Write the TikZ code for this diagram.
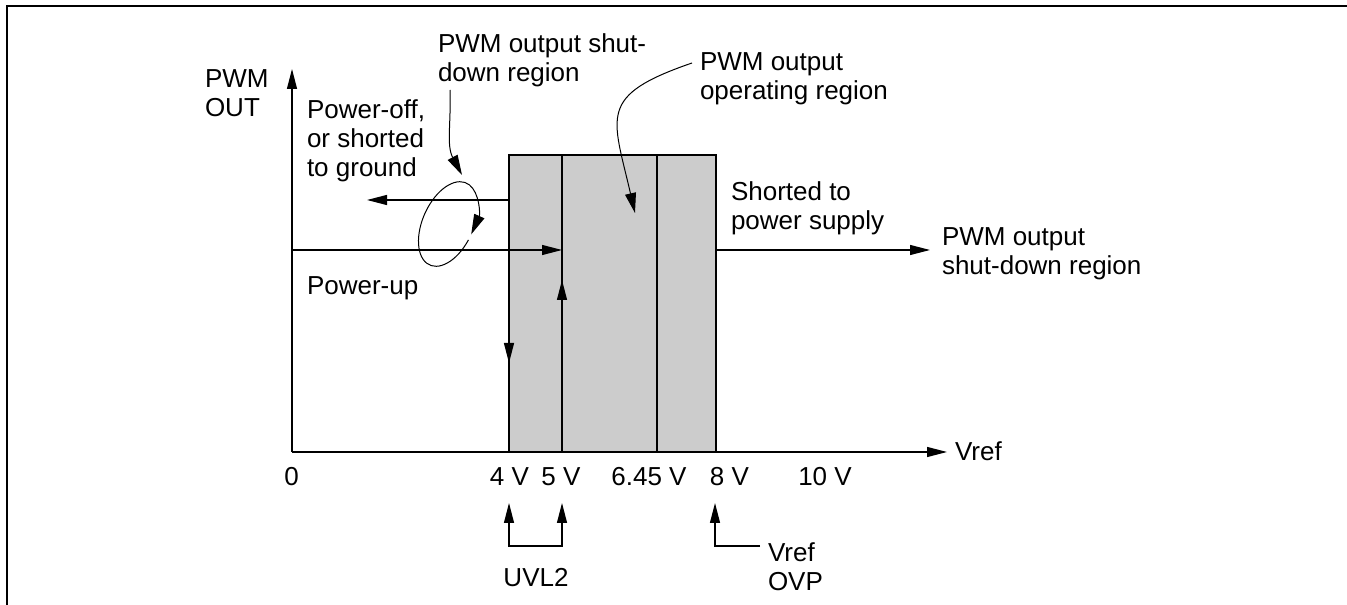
\documentclass[tikz,border=0pt]{standalone}
\usepackage{fontspec}
\setmainfont{Liberation Sans}
\usetikzlibrary{arrows.meta}
\definecolor{boxgray}{HTML}{CCCCCC}
\begin{document}
\begin{tikzpicture}[x=1pt,y=1pt,
  lbl/.style={font=\fontsize{26pt}{29pt}\selectfont, inner sep=0pt, outer sep=0pt, align=left},
  ln/.style={line width=1.2pt},
  thickln/.style={line width=1.8pt},
  arr/.style={-{Triangle[length=20pt,width=10pt]}},
  curvarr/.style={line width=1pt,-{Triangle[length=20pt,width=11pt]}}]
\useasboundingbox (0,0) rectangle (1347,605);
% frame
\draw[thickln] (7,0) -- (7,599) -- (1347,599);
% coordinates
\coordinate (O) at (292,153);
\coordinate (Ytop) at (292,536);
\coordinate (Xend) at (947,153);
\coordinate (b5t) at (562,450);
\coordinate (b5b) at (562,153);
\coordinate (b6t) at (657,450);
\coordinate (b6b) at (657,153);
% shaded region
\node[draw, fill=boxgray, thickln, anchor=south west, inner sep=0pt, outer sep=0pt,
      minimum width=207pt, minimum height=297pt] (box) at (509,153) {};
\draw[thickln] (b5b) -- (b5t);
\draw[thickln] (b6b) -- (b6t);
% axes
\draw[ln,arr] (O) -- (Ytop);
\draw[ln,arr] (O) -- (Xend);
% power-up / power-off / shorted paths
\coordinate (pu0) at (292,355);
\coordinate (pu1) at (562,355);
\draw[ln,arr] (pu0) -- (pu1);
\coordinate (po0) at (509,405);
\coordinate (po1) at (367,405);
\draw[ln,arr] (po0) -- (po1);
\coordinate (dn1) at (509,242);
\draw[ln,arr] (po0) -- (dn1);
\coordinate (up0) at (562,153);
\coordinate (up1) at (562,325);
\draw[ln,arr] (up0) -- (up1);
\coordinate (r0) at (716,355);
\coordinate (r1) at (930,355);
\draw[ln,arr] (r0) -- (r1);
% ellipse with arrow
\begin{scope}[shift={(448,381)}, rotate=66]
  \draw[curvarr] (262:44.9pt and 25.4pt) arc[start angle=262, end angle=-90, x radius=44.9pt, y radius=25.4pt];
\end{scope}
% curved pointers
\coordinate (c1s) at (450,515);
\coordinate (c1e) at (462,430);
\draw[curvarr] (c1s) to[out=-88, in=118] (c1e);
\coordinate (c2s) at (692,542);
\coordinate (c2e) at (635,392);
\draw[curvarr] (c2s) to[out=199, in=103, looseness=1.6] (c2e);
% bottom markers
\coordinate (u4) at (509,102);
\coordinate (u4b) at (509,59);
\coordinate (u5) at (562,102);
\coordinate (u5b) at (562,59);
\draw[ln,{Triangle[length=20pt,width=10pt]}-{Triangle[length=20pt,width=10pt]}] (u4) -- (u4b) -- (u5b) -- (u5);
\coordinate (o8) at (715,102);
\coordinate (o8b) at (715,59);
\coordinate (o8r) at (760,59);
\draw[ln,arr] (o8r) -- (o8b) -- (o8);
% labels (base anchor = baseline of last line)
\node[lbl, anchor=base west] (pwmout) at (205,488) {PWM\\OUT};
\node[lbl, anchor=base west] (poff) at (307,428) {Power-off,\\or shorted\\to ground};
\node[lbl, anchor=base west] (pup) at (307,310) {Power-up};
\node[lbl, anchor=base west] (sd1) at (438,523) {PWM output shut-\\down region};
\node[lbl, anchor=base west] (op) at (700,505) {PWM output\\operating region};
\node[lbl, anchor=base west] (sps) at (731,375) {Shorted to\\power supply};
\node[lbl, anchor=base west] (sd2) at (942,330) {PWM output\\shut-down region};
\node[lbl, anchor=base west] (vrefax) at (955,144) {Vref};
\node[lbl, anchor=base] (t0) at (291.5,119) {0};
\node[lbl, anchor=base] (t4) at (509.5,119) {4 V};
\node[lbl, anchor=base] (t5) at (561,119) {5 V};
\node[lbl, anchor=base] (t645) at (649,119) {6.45 V};
\node[lbl, anchor=base] (t8) at (729.5,119) {8 V};
\node[lbl, anchor=base] (t10) at (825,119) {10 V};
\node[lbl, anchor=base] (uvl) at (536,18) {UVL2};
\node[lbl, anchor=base west] (ovp) at (768,14) {Vref\\OVP};
\end{tikzpicture}
\end{document}
